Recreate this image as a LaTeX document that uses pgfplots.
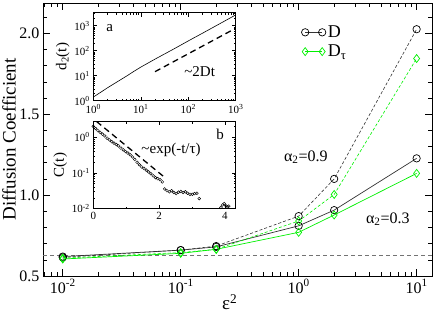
\documentclass[border=0pt]{standalone}
\usepackage{fontspec}
\setmainfont{Liberation Serif}
\usepackage{pgfplots}
\pgfplotsset{compat=1.18}
\definecolor{mygreen}{RGB}{0,240,0}

\begin{document}
\begin{tikzpicture}
\path[use as bounding box] (-43pt,-41pt) rectangle (393pt,276pt);
\begin{axis}[
  at={(0pt,0pt)}, anchor=south west,
  scale only axis, width=389pt, height=273pt,
  xmode=log, log basis x=10,
  xmin=0.0068, xmax=13.5, ymin=0.5, ymax=2.187,
  xtick={0.01,0.1,1,10},
  xticklabels={10\textsuperscript{-2},10\textsuperscript{-1},10\textsuperscript{0},10\textsuperscript{1}},
  minor xtick={0.007,0.008,0.009,0.02,0.03,0.04,0.05,0.06,0.07,0.08,0.09,0.2,0.3,0.4,0.5,0.6,0.7,0.8,0.9,2,3,4,5,6,7,8,9},
  ytick={0.5,1,1.5,2}, yticklabels={0.5,1.0,1.5,2.0},
  minor ytick={0.6,0.7,0.8,0.9,1.1,1.2,1.3,1.4,1.6,1.7,1.8,1.9,2.1},
  tick align=inside, major tick length=7pt, minor tick length=4pt,
  tick style={black, line width=0.6pt},
  axis line style={line width=0.8pt},
  ticklabel style={font=\fontsize{16}{16}\selectfont},
  xlabel={ε\textsuperscript{2}}, ylabel={Diffusion Coefficient},
  label style={font=\fontsize{19}{19}\selectfont},
  xlabel style={at={(axis description cs:0.48,-0.124)}, anchor=base},
  ylabel style={at={(axis description cs:-0.0874,0.5)}, anchor=center},
  legend style={at={(0.664,0.925)}, anchor=north west, draw=none, fill=none,
    font=\fontsize{18}{18}\selectfont, row sep=2pt, inner sep=0pt},
  legend cell align=left,
  legend image code/.code={\draw[#1] plot coordinates {(0pt,0pt) (17pt,0pt)};},
]
% gray reference line
\addplot[forget plot, black!55, line width=1.4pt, dash pattern=on 4pt off 3pt] coordinates {(0.0068,0.625) (13.5,0.625)};
% alpha=0.3 (solid)
\addplot[black!80, line width=0.7pt, mark=o, mark size=3.7pt, mark options={solid, black, fill=white, line width=0.7pt}]
  coordinates {(0.01,0.62) (0.1,0.66) (0.2,0.68) (1,0.81) (2,0.907) (10,1.227)};
\addlegendentry{D}
\addplot[mygreen, line width=0.7pt, mark=diamond, mark size=4pt, mark options={solid, mygreen, fill=white, line width=0.7pt}]
  coordinates {(0.01,0.605) (0.1,0.64) (0.2,0.665) (1,0.77) (2,0.877) (10,1.134)};
\addlegendentry{D\textsubscript{τ}}
% alpha=0.9 (dashed)
\addplot[forget plot, black!80, line width=0.6pt, dash pattern=on 3pt off 2pt, mark=o, mark size=3.7pt, mark options={solid, black, fill=white, line width=0.7pt}]
  coordinates {(0.01,0.615) (0.1,0.66) (0.2,0.685) (1,0.87) (2,1.10) (10,2.025)};
\addplot[forget plot, mygreen, line width=0.6pt, dash pattern=on 3pt off 2pt, mark=diamond, mark size=4pt, mark options={solid, mygreen, fill=white, line width=0.7pt}]
  coordinates {(0.01,0.61) (0.1,0.645) (0.2,0.665) (1,0.84) (2,1.004) (10,1.844)};
\node[font=\fontsize{16}{16}\selectfont] at (axis cs:1.15,1.235) {α\textsubscript{2}=0.9};
\node[font=\fontsize{16}{16}\selectfont] at (axis cs:5.7,0.852) {α\textsubscript{2}=0.3};
\end{axis}

% inset a
\begin{axis}[
  at={(50.3pt,175.3pt)}, anchor=south west,
  scale only axis, width=142.4pt, height=88pt,
  xmode=log, ymode=log, log basis x=10, log basis y=10,
  xmin=1, xmax=1000, ymin=1, ymax=3300,
  xtick={1,10,100,1000},
  xticklabels={10\textsuperscript{0},10\textsuperscript{1},10\textsuperscript{2},10\textsuperscript{3}},
  ytick={1,10,100,1000},
  yticklabels={10\textsuperscript{0},10\textsuperscript{1},10\textsuperscript{2},10\textsuperscript{3}},
  minor xtick={2,3,4,5,6,7,8,9,20,30,40,50,60,70,80,90,200,300,400,500,600,700,800,900},
  minor ytick={2,3,4,5,6,7,8,9,20,30,40,50,60,70,80,90,200,300,400,500,600,700,800,900,2000,3000},
  tick align=inside, major tick length=4pt, minor tick length=2pt,
  tick style={black, line width=0.5pt},
  axis line style={line width=0.7pt},
  axis background/.style={fill=white},
  ticklabel style={font=\fontsize{11}{11}\selectfont},
  ylabel={d\textsubscript{2}(t)},
  ylabel style={font=\fontsize{15}{15}\selectfont, yshift=-2pt},
]
\addplot[black, line width=0.6pt] coordinates {
 (1,1.4) (1.5,2.3) (2,3.3) (3,5.3) (5,9.6) (7,14.5) (10,22) (20,46) (50,118) (100,245) (200,500) (500,1300) (1000,2690)};
\addplot[black, line width=1.3pt, dash pattern=on 6pt off 4pt] coordinates {(20,14.5) (1000,790)};
\node[font=\fontsize{15}{15}\selectfont] at (rel axis cs:0.115,0.82) {a};
\node[font=\fontsize{15}{15}\selectfont] at (rel axis cs:0.747,0.33) {\textasciitilde 2Dt};
\end{axis}

% inset b
\begin{axis}[
  at={(50.3pt,67.5pt)}, anchor=south west,
  scale only axis, width=142.4pt, height=87pt,
  ymode=log, log basis y=10,
  xmin=0, xmax=4.33, ymin=0.01, ymax=2.8,
  xtick={0,2,4}, xticklabels={0,2,4}, minor xtick={1,3},
  ytick={0.01,0.1,1},
  yticklabels={10\textsuperscript{-2},10\textsuperscript{-1},10\textsuperscript{0}},
  minor ytick={0.02,0.03,0.04,0.05,0.06,0.07,0.08,0.09,0.2,0.3,0.4,0.5,0.6,0.7,0.8,0.9,2},
  tick align=inside, major tick length=4pt, minor tick length=2pt,
  tick style={black, line width=0.5pt},
  axis line style={line width=0.7pt},
  axis background/.style={fill=white},
  ticklabel style={font=\fontsize{11}{11}\selectfont},
  ylabel={C(t)},
  ylabel style={font=\fontsize{15}{15}\selectfont, yshift=-2pt},
]
\addplot[only marks, mark=o, mark size=1.4pt, mark options={black, line width=0.45pt}] coordinates {
 (0.00,2.04) (0.07,1.78) (0.14,1.55) (0.21,1.38) (0.28,1.23) (0.35,1.10) (0.42,0.95)
 (0.49,0.85) (0.56,0.76) (0.63,0.69) (0.70,0.63) (0.77,0.575) (0.84,0.50) (0.91,0.447)
 (0.98,0.40) (1.05,0.363) (1.12,0.324) (1.19,0.282) (1.26,0.24) (1.33,0.20) (1.40,0.17)
 (1.47,0.148) (1.54,0.135) (1.61,0.12) (1.68,0.107) (1.75,0.095) (1.82,0.083) (1.89,0.074)
 (1.96,0.069) (2.03,0.0646) (2.10,0.056) (2.17,0.0355) (2.24,0.0316) (2.31,0.0295)
 (2.38,0.0316) (2.45,0.0282) (2.52,0.0263) (2.59,0.0288) (2.66,0.0302) (2.73,0.0282)
 (2.80,0.0295) (2.87,0.0269) (2.94,0.0251) (3.01,0.0251) (3.08,0.0263) (3.15,0.0269)
 (3.22,0.019) (3.88,0.0107) (3.93,0.0126) (3.98,0.0138) (4.03,0.012) (4.08,0.0112) (4.12,0.0117)};
\addplot[black, line width=1.3pt, dash pattern=on 6pt off 4pt] coordinates {(0.1,2.8) (2.21,0.07)};
\node[font=\fontsize{15}{15}\selectfont] at (rel axis cs:0.89,0.856) {b};
\node[font=\fontsize{15}{15}\selectfont] at (rel axis cs:0.546,0.672) {\textasciitilde exp(-t/τ)};
\end{axis}
\end{tikzpicture}
\end{document}
